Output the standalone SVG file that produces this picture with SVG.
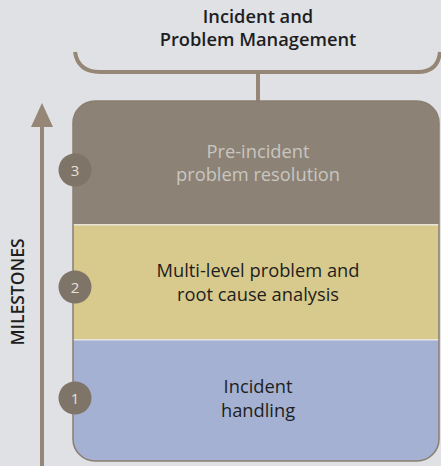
<svg xmlns="http://www.w3.org/2000/svg" width="441" height="466" viewBox="0 0 441 466">
<defs>
<style>
.t{font-family:"Open Sans","Liberation Sans",sans-serif;text-anchor:middle}
.h{font-size:18.3px;font-weight:600;fill:#1e1e1e}
.b{font-size:18.3px;fill:#1e1e1e}
.w{font-size:18.3px;fill:#c9c6c0}
.c{fill:#7e7468}
.n{font-family:"Open Sans","Liberation Sans",sans-serif;font-size:15px;fill:#e6e2dc;text-anchor:middle}
.ln{fill:none;stroke:#958676;stroke-width:4}
</style>
<clipPath id="box"><rect x="73" y="101" width="366" height="360" rx="22"/></clipPath>
</defs>
<rect width="441" height="466" fill="#dfe1e5"/>
<g id="title">
<text class="t h" x="258" y="23">Incident and</text>
<text class="t h" x="258" y="46">Problem Management</text>
</g>
<g id="connectors">
<path class="ln" d="M75 52 Q78 72 100 72 L418 72 Q438 72 440 52"/>
<line class="ln" x1="258" y1="72" x2="258" y2="101"/>
<line class="ln" x1="42" y1="124" x2="42" y2="466"/>
<polygon points="42,103 31,127 53,127" fill="#958676"/>
</g>
<g id="axis-label">
<text class="t h" x="0" y="0" transform="translate(24,292) rotate(-90)" style="font-size:17.5px">MILESTONES</text>
</g>
<g clip-path="url(#box)">
<g id="band3"><rect x="73" y="101" width="366" height="123" fill="#8c8276"/></g>
<g id="band2"><rect x="73" y="225" width="366" height="114" fill="#d8c98c"/></g>
<g id="band1"><rect x="73" y="340" width="366" height="121" fill="#a4b1d2"/></g>
</g>
<rect x="73" y="224" width="366" height="1.5" fill="#e8e4d8"/>
<rect x="73" y="339" width="366" height="1.5" fill="#e8e6e2"/>
<rect x="73" y="101" width="366" height="360" rx="22" fill="none" stroke="#8a7e70" stroke-width="1.5"/>
<g id="node3">
<text class="t w" x="258" y="158">Pre-incident</text>
<text class="t w" x="258" y="181">problem resolution</text>
<circle class="c" cx="75" cy="170" r="16.5"/>
<text class="n" x="75" y="175.5">3</text>
</g>
<g id="node2">
<text class="t b" x="258" y="277">Multi-level problem and</text>
<text class="t b" x="258" y="301">root cause analysis</text>
<circle class="c" cx="75" cy="287" r="16.5"/>
<text class="n" x="75" y="292.5">2</text>
</g>
<g id="node1">
<text class="t b" x="258" y="393">Incident</text>
<text class="t b" x="258" y="417">handling</text>
<circle class="c" cx="75" cy="398" r="16.5"/>
<text class="n" x="75" y="403.5">1</text>
</g>
</svg>
